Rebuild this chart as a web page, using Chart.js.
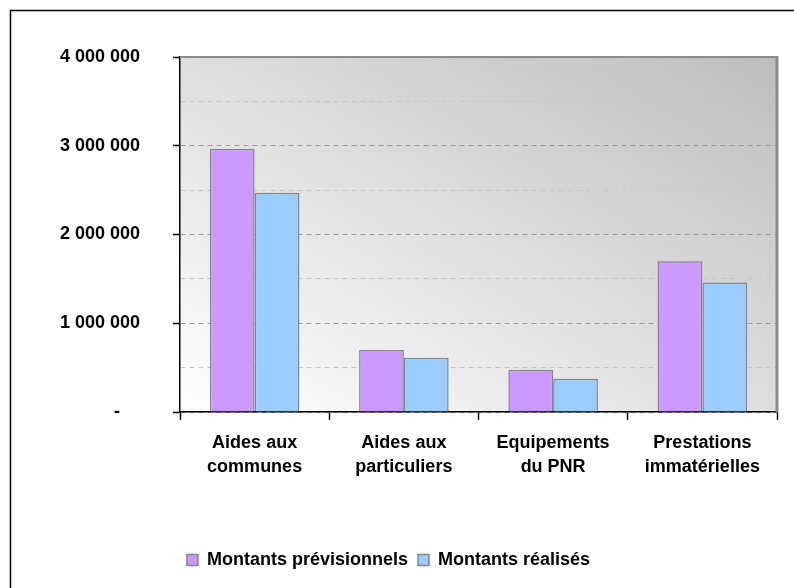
<!DOCTYPE html>
<html>
<head>
<meta charset="utf-8">
<script src="https://cdn.jsdelivr.net/npm/chart.js@4/dist/chart.umd.min.js"></script>
<style>
  body { margin: 0; background: #fff; }
  #wrap { width: 794px; height: 588px; }
</style>
</head>
<body>
<div id="wrap"><canvas id="chart" width="794" height="588"></canvas></div>
<script>
const categories = [
    ['Aides aux', 'communes'],
    ['Aides aux', 'particuliers'],
    ['Equipements', 'du PNR'],
    ['Prestations', 'immatérielles']
];
const previsionnels = [2965000, 700000, 475000, 1700000];
const realises = [2470000, 610000, 375000, 1460000];
const seriesNames = ['Montants prévisionnels', 'Montants réalisés'];
const yMin = 0;
const yMax = 4000000;
const yStep = 500000;   // minor grid every 500 000, labels every 1 000 000

const FONT = "'Liberation Sans', Arial, sans-serif";

const formatAmount = (value) => {
    if (value === 0) return '-    ';
    return value.toLocaleString('en-US').replace(/,/g, ' ');
};

const isMajor = (v) => v % 1000000 === 0;

// gradient plot area, outer frame, gray top/right border of the plot
const plotBackground = {
    id: 'plotBackground',
    beforeDraw(chart) {
        const { ctx, chartArea: a } = chart;
        ctx.save();
        ctx.fillStyle = '#fff';
        ctx.fillRect(0, 0, chart.width, chart.height);

        ctx.strokeStyle = '#000';
        ctx.lineWidth = 1.5;
        ctx.beginPath();
        ctx.moveTo(10.5, chart.height);
        ctx.lineTo(10.5, 10.5);
        ctx.lineTo(chart.width, 10.5);
        ctx.stroke();

        const w = a.width, h = a.height;
        const cx = a.left + w / 2, cy = a.top + h / 2;
        const len = Math.hypot(w, h);
        const half = w * h / len;
        const dx = h / len * half, dy = -w / len * half;
        const g = ctx.createLinearGradient(cx - dx, cy - dy, cx + dx, cy + dy);
        g.addColorStop(0, '#ffffff');
        g.addColorStop(1, '#bdbdbd');
        ctx.fillStyle = g;
        ctx.fillRect(a.left, a.top, w, h);
        ctx.restore();
    },
    afterDatasetsDraw(chart) {
        const { ctx, chartArea: a } = chart;
        ctx.save();
        ctx.strokeStyle = '#8c8c8c';
        ctx.lineWidth = 2;
        ctx.beginPath();
        ctx.moveTo(a.left, a.top);
        ctx.lineTo(a.right, a.top);
        ctx.stroke();
        ctx.lineWidth = 3;
        ctx.beginPath();
        ctx.moveTo(a.right, a.top - 1);
        ctx.lineTo(a.right, a.bottom);
        ctx.stroke();
        ctx.restore();
    }
};

const ctx = document.getElementById('chart').getContext('2d');
new Chart(ctx, {
    type: 'bar',
    data: {
        labels: categories,
        datasets: [
            {
                label: seriesNames[0],
                data: previsionnels,
                backgroundColor: '#cc99ff',
                borderColor: '#858585',
                borderWidth: 1.5
            },
            {
                label: seriesNames[1],
                data: realises,
                backgroundColor: '#99ccff',
                borderColor: '#858585',
                borderWidth: 1.5
            }
        ]
    },
    options: {
        responsive: false,
        animation: false,
        layout: { padding: { top: 57, right: 17, bottom: 9, left: 0 } },
        datasets: { bar: { categoryPercentage: 0.6, barPercentage: 1 } },
        plugins: {
            tooltip: { enabled: false },
            legend: {
                position: 'bottom',
                labels: {
                    color: '#000',
                    font: { family: FONT, size: 18, weight: 'bold' },
                    boxWidth: 11,
                    boxHeight: 11,
                    padding: 10
                }
            }
        },
        scales: {
            x: {
                afterFit: (scale) => { scale.height = 129; },
                grid: {
                    drawOnChartArea: false,
                    tickLength: 8,
                    tickColor: '#000',
                    tickWidth: 1.5
                },
                border: { color: '#000', width: 1.5 },
                ticks: {
                    color: '#000',
                    padding: 11,
                    maxRotation: 0,
                    font: { family: FONT, size: 18, weight: 'bold', lineHeight: 1.33 }
                }
            },
            y: {
                min: yMin,
                max: yMax,
                afterFit: (scale) => { scale.width = 180; },
                grid: {
                    color: (c) => isMajor(c.tick.value) ? '#9a9a9a' : '#c6c6c6',
                    tickColor: (c) => isMajor(c.tick.value) ? '#000' : 'rgba(0,0,0,0)',
                    tickLength: 7,
                    tickWidth: 1.5,
                    tickBorderDash: []
                },
                border: { color: '#000', width: 1.5, dash: [5, 4] },
                ticks: {
                    stepSize: yStep,
                    color: '#000',
                    padding: 33,
                    font: { family: FONT, size: 18, weight: 'bold' },
                    callback: (value) => isMajor(value) ? formatAmount(value) : ''
                }
            }
        }
    },
    plugins: [plotBackground]
});
</script>
</body>
</html>
